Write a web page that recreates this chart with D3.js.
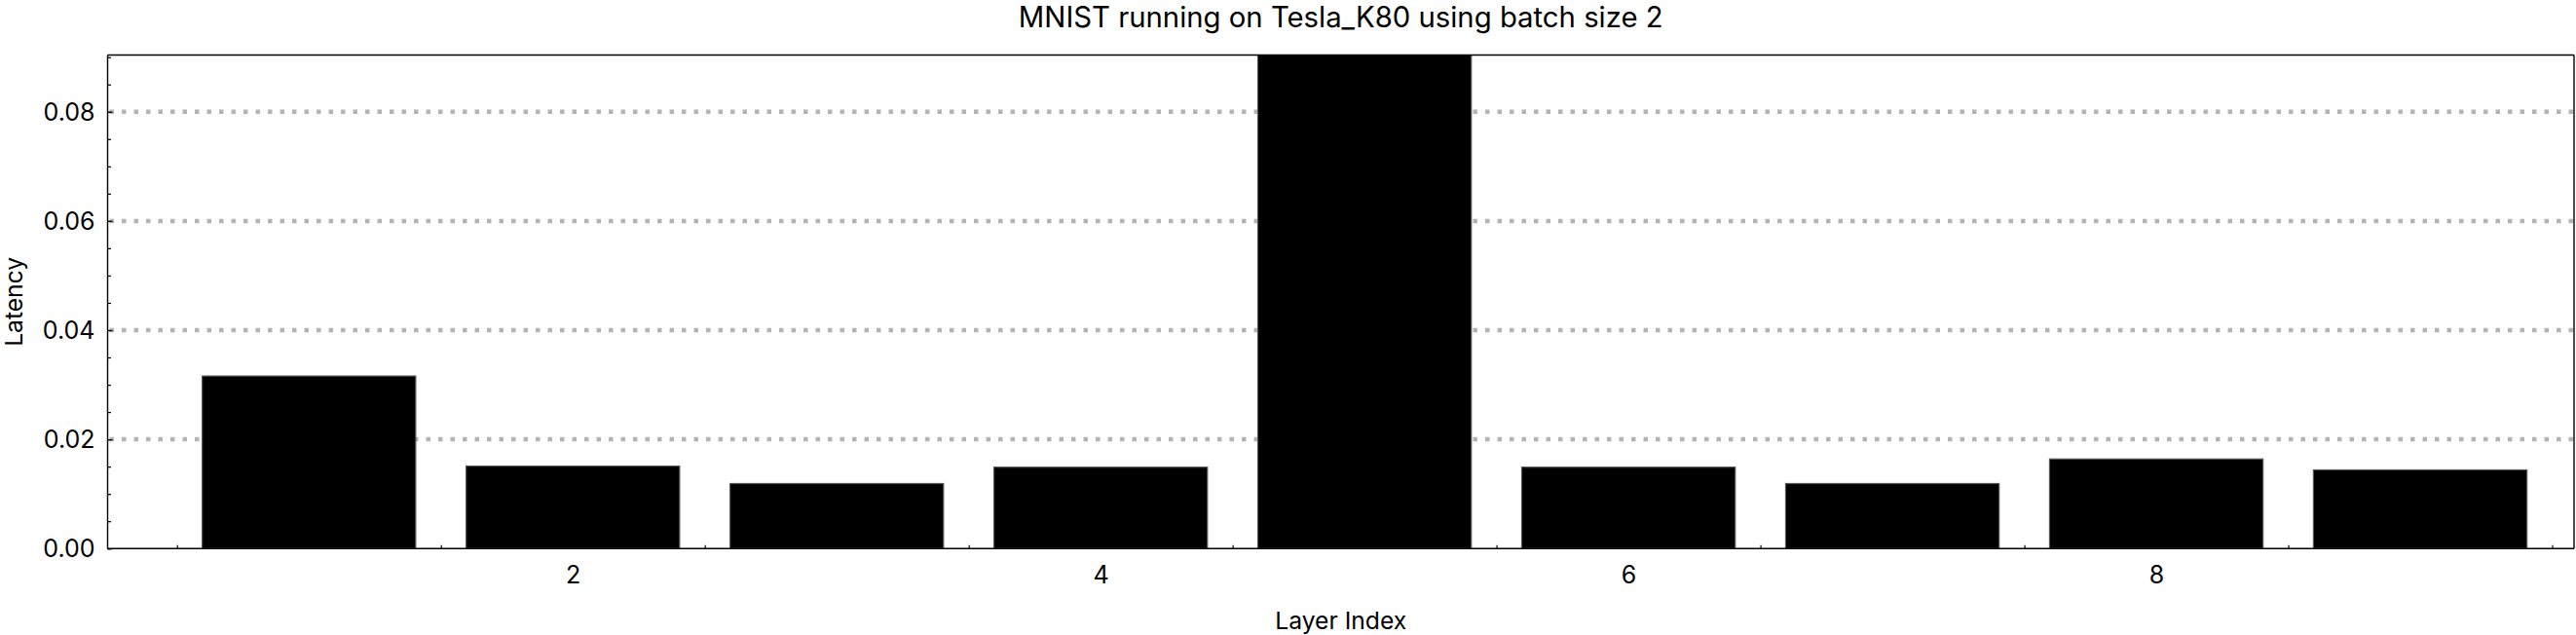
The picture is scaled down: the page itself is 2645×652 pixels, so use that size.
<!DOCTYPE html>
<html>
<head>
<meta charset="utf-8">
<script src="https://cdn.jsdelivr.net/npm/d3@7"></script>
<style>
  html, body { margin: 0; padding: 0; background: #fff; }
  svg { display: block; }
  text { font-family: Inter, "Noto Sans", sans-serif; fill: #000; }
</style>
</head>
<body>
<div id="chart"></div>
<script>
// ---- data ----
const layerIndex = [1, 2, 3, 4, 5, 6, 7, 8, 9];
const latency = [0.0316, 0.0151, 0.0119, 0.0149, 0.1000, 0.0149, 0.0119, 0.0164, 0.0144];
const xTickLabels = [2, 4, 6, 8];
const yTickValues = [0, 0.02, 0.04, 0.06, 0.08];
const titleText = "MNIST running on Tesla_K80 using batch size 2";
const xTitle = "Layer Index";
const yTitle = "Latency";

(function () {
// ---- layout ----
const W = 2645, H = 652;
const pL = 110.5, pR = 2643, pT = 56.5, pB = 563.2;

const svg = d3.select("#chart").append("svg").attr("width", W).attr("height", H);

const x = d3.scaleLinear().domain([0.237, 9.583]).range([pL, pR]);
const y = d3.scaleLinear().domain([0, 0.0904]).range([pB, pT]);
const barW = 0.809;

svg.append("defs").append("clipPath").attr("id", "plotclip")
  .append("rect").attr("x", pL).attr("y", pT).attr("width", pR - pL).attr("height", pB - pT);

// gridlines
svg.append("g").selectAll("line").data(yTickValues.filter(d => d > 0)).join("line")
  .attr("x1", pL + 2).attr("x2", pR)
  .attr("y1", d => y(d)).attr("y2", d => y(d))
  .attr("stroke", "#b4b4b4").attr("stroke-width", 4.5)
  .attr("stroke-dasharray", "4.5 8");

// bars
svg.append("g").attr("clip-path", "url(#plotclip)")
  .selectAll("rect").data(layerIndex).join("rect")
  .attr("x", (d) => x(d - barW / 2))
  .attr("width", (d) => x(d + barW / 2) - x(d - barW / 2))
  .attr("y", (d, i) => y(latency[i]))
  .attr("height", (d, i) => y(0) - y(latency[i]))
  .attr("fill", "#000").attr("stroke", "#555").attr("stroke-width", 1.2);

// frame
const frame = svg.append("g").attr("stroke", "#000").attr("stroke-width", 1.4).attr("fill", "none");
frame.append("line").attr("x1", pL).attr("x2", pR).attr("y1", pT).attr("y2", pT);
frame.append("line").attr("x1", pR).attr("x2", pR).attr("y1", pT).attr("y2", pB);

// y axis
const yMinor = d3.range(0, 0.0904, 0.005);
const yAxis = d3.axisLeft(y).tickValues(yMinor).tickSize(-3.5).tickFormat("");
const gy = svg.append("g").attr("transform", `translate(${pL},0)`).call(yAxis);
gy.select(".domain").attr("stroke-width", 1.4).attr("d", `M0,${pT}V${pB}`);
gy.selectAll(".tick line").attr("stroke-width", 1.2);
const yMajor = d3.axisLeft(y).tickValues(yTickValues).tickSize(-5).tickFormat(d3.format(".2f")).tickPadding(13);
const gy2 = svg.append("g").attr("transform", `translate(${pL},0)`).call(yMajor);
gy2.select(".domain").remove();
gy2.selectAll(".tick line").attr("stroke-width", 1.2);
gy2.selectAll("text").attr("font-size", 25).attr("font-family", "Inter").attr("dy", "0.34em");

// x axis
const xMinor = d3.range(0.5, 9.6, 1);
const xAxis = d3.axisBottom(x).tickValues(xMinor).tickSize(-3.5).tickFormat("");
const gx = svg.append("g").attr("transform", `translate(0,${pB})`).call(xAxis);
gx.select(".domain").attr("stroke-width", 1.4).attr("d", `M${pL},0H${pR}`);
gx.selectAll(".tick line").attr("stroke-width", 1.2);
const xMajor = d3.axisBottom(x).tickValues(xTickLabels).tickSize(0).tickPadding(18).tickFormat(d3.format("d"));
const gx2 = svg.append("g").attr("transform", `translate(0,${pB})`).call(xMajor);
gx2.select(".domain").remove();
gx2.selectAll("text").attr("font-size", 25).attr("font-family", "Inter");

// fit a text's font size to a target width
function fitWidth(sel, target) {
  const len = sel.node().getComputedTextLength();
  const fs = +sel.attr("font-size");
  sel.attr("font-size", (fs * target / len).toFixed(2));
}

// titles
const t = svg.append("text").attr("x", (pL + pR) / 2).attr("y", 28)
  .attr("text-anchor", "middle").attr("font-size", 25).text(titleText);
fitWidth(t, 662);
const xt = svg.append("text").attr("x", (pL + pR) / 2).attr("y", 646)
  .attr("text-anchor", "middle").attr("font-size", 25).text(xTitle);
fitWidth(xt, 135);
const yt = svg.append("text").attr("transform", `translate(23,${(pT + pB) / 2}) rotate(-90)`)
  .attr("text-anchor", "middle").attr("font-size", 25).text(yTitle);
fitWidth(yt, 92);
})();
</script>
</body>
</html>
